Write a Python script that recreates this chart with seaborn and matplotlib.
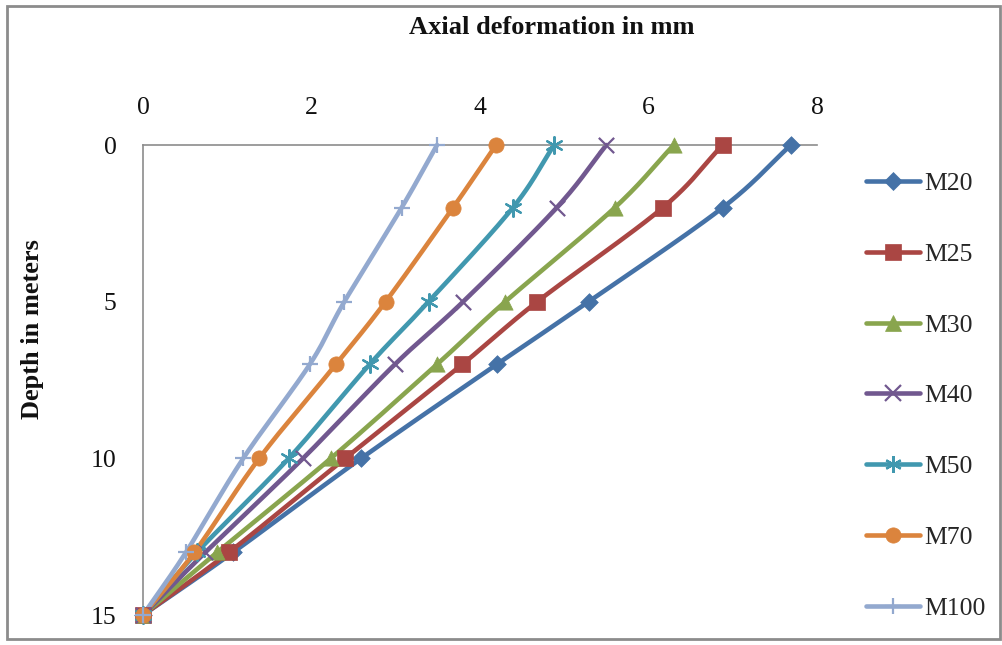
import numpy as np
import pandas as pd
import matplotlib
matplotlib.use("Agg")
import matplotlib.pyplot as plt
from matplotlib.patches import Rectangle
from matplotlib.lines import Line2D
import seaborn as sns

# Depth below the pile head (m)
depth = [0, 2, 5, 7, 10, 13, 15]

# Axial deformation (mm) for each concrete grade
m20 = [7.69, 6.88, 5.29, 4.20, 2.59, 1.07, 0.0]
m25 = [6.88, 6.17, 4.68, 3.79, 2.40, 1.02, 0.0]
m30 = [6.30, 5.60, 4.30, 3.49, 2.23, 0.88, 0.0]
m40 = [5.50, 4.91, 3.80, 2.99, 1.90, 0.74, 0.0]
m50 = [4.88, 4.39, 3.39, 2.69, 1.73, 0.64, 0.0]
m70 = [4.19, 3.68, 2.88, 2.29, 1.38, 0.61, 0.0]
m100 = [3.49, 3.07, 2.39, 1.98, 1.19, 0.51, 0.0]

grades = ["M20", "M25", "M30", "M40", "M50", "M70", "M100"]
series = [m20, m25, m30, m40, m50, m70, m100]

colors = ["#4572A7", "#AA4643", "#89A54E", "#71588F", "#4198AF", "#DB843D", "#93A9CF"]
markers = ["D", "s", "^", "x", (6, 2, 0), "o", "+"]
msizes = [9, 11.5, 11, 11, 12, 11, 12]

rows = []
for g, vals in zip(grades, series):
    for d, v in zip(depth, vals):
        rows.append({"grade": g, "depth": d, "deformation": v})
df = pd.DataFrame(rows)


def catmull_rom(x, y, n=24):
    """Smooth curve through the points (Excel-style smoothed line)."""
    pts = np.column_stack([x, y]).astype(float)
    p = np.vstack([2 * pts[0] - pts[1], pts, 2 * pts[-1] - pts[-2]])
    out = []
    t = np.linspace(0, 1, n, endpoint=False)[:, None]
    for i in range(1, len(p) - 2):
        p0, p1, p2, p3 = p[i - 1], p[i], p[i + 1], p[i + 2]
        seg = 0.5 * ((2 * p1) + (-p0 + p2) * t
                     + (2 * p0 - 5 * p1 + 4 * p2 - p3) * t ** 2
                     + (-p0 + 3 * p1 - 3 * p2 + p3) * t ** 3)
        out.append(seg)
    out.append(pts[-1][None, :])
    out = np.vstack(out)
    return out[:, 0], out[:, 1]


sns.set_theme(style="white")
plt.rcParams["font.family"] = ["Liberation Serif", "DejaVu Serif"]

fig = plt.figure(figsize=(10.03, 6.45), dpi=100)
ax = fig.add_axes([143 / 1003, 1 - 615 / 645, (817 - 143) / 1003, (615 - 145) / 645])

handles = []
for g, c, mk, ms in zip(grades, colors, markers, msizes):
    sub = df[df["grade"] == g]
    sx, sy = catmull_rom(sub["deformation"].values, sub["depth"].values)
    sns.lineplot(x=sx, y=sy, sort=False, estimator=None, color=c, lw=3.3,
                 ax=ax, clip_on=False, solid_capstyle="round")
    mew = 1.6 if mk in ("x", "+", (6, 2, 0)) else 0.5
    sns.scatterplot(x=sub["deformation"], y=sub["depth"], marker=mk, s=ms ** 2,
                    color=c, edgecolor=c, linewidth=mew, ax=ax, clip_on=False,
                    zorder=5, legend=False)
    handles.append(Line2D([], [], color=c, lw=3.3, marker=mk, markersize=ms,
                          markeredgewidth=mew, solid_capstyle="round", label=g))

ax.set_xlim(0, 8)
ax.set_ylim(15, 0)
ax.set_xticks([0, 2, 4, 6, 8])
ax.set_yticks([0, 5, 10, 15])
ax.xaxis.tick_top()
ax.tick_params(axis="x", length=0, pad=19, labelsize=18.5, labelcolor="#111111")
ax.tick_params(axis="y", length=0, pad=19, labelsize=18.5, labelcolor="#111111")
ax.set_xlabel("")
ax.set_ylabel("")
for s in ["right", "bottom"]:
    ax.spines[s].set_visible(False)
for s in ["top", "left"]:
    ax.spines[s].set_color("#8c8c8c")
    ax.spines[s].set_linewidth(1.2)
ax.grid(False)

fig.text(552 / 1003, 1 - 28 / 645, "Axial deformation in mm", ha="center", va="center",
         fontsize=19, fontweight="bold", color="#111111")
fig.text(33 / 1003, 1 - 329 / 645, "Depth in meters", ha="center", va="center",
         rotation=90, fontsize=19, fontweight="bold", color="#111111")

leg = fig.legend(handles=handles, loc="upper left", bbox_to_anchor=(866 / 1003, 1 - 172 / 645),
                 frameon=False, fontsize=18.5, labelspacing=1.86, handlelength=2.1,
                 handletextpad=0.15, borderaxespad=0, borderpad=0)

fig.patches.append(Rectangle((7 / 1003, 6 / 645), 993 / 1003, 633 / 645,
                             transform=fig.transFigure, fill=False,
                             edgecolor="#8c8c8c", lw=2))

fig.savefig("out.png", dpi=100)
